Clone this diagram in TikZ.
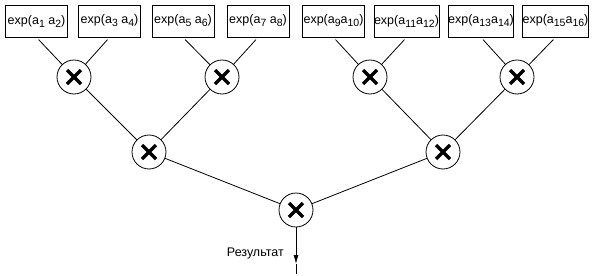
\documentclass[tikz,border=0pt]{standalone}
\usepackage{fontspec}
\setmainfont{Liberation Sans}
\usetikzlibrary{arrows.meta,calc}
\newcommand{\lo}[1]{\raisebox{-3pt}{\fontsize{10.5}{11}\selectfont #1}}

\begin{document}
\begin{tikzpicture}[
    x=1pt, y=-1pt,
    term/.style={rectangle, draw, line width=0.8pt, minimum width=62pt, minimum height=32pt, inner sep=0pt, font=\fontsize{12.5}{14}\selectfont},
    mult/.style={circle, draw, line width=0.8pt, minimum size=34pt, inner sep=0pt,
        path picture={
            \draw[line width=3.4pt] ($(path picture bounding box.center)+(-7,-7)$) -- ($(path picture bounding box.center)+(7,7)$);
            \draw[line width=3.4pt] ($(path picture bounding box.center)+(-7,7)$) -- ($(path picture bounding box.center)+(7,-7)$);
        }},
    wire/.style={line width=0.8pt},
]
    \useasboundingbox (0,0) rectangle (598,276);

    % Terms
    \node[term] (e1) at (36.5,21) {exp(a\lo{1} a\lo{2})};
    \node[term] (e2) at (109.5,21) {exp(a\lo{3} a\lo{4})};
    \node[term] (e3) at (183,21) {exp(a\lo{5} a\lo{6})};
    \node[term] (e4) at (258,21) {exp(a\lo{7} a\lo{8})};
    \node[term] (e5) at (333.5,21) {exp(a\lo{9}a\lo{10})};
    \node[term] (e6) at (406.5,21) {exp(a\lo{11}a\lo{12})};
    \node[term] (e7) at (481,21) {exp(a\lo{13}a\lo{14})};
    \node[term] (e8) at (555.5,21) {exp(a\lo{15}a\lo{16})};

    % Products
    \node[mult] (m1) at (74,77) {};
    \node[mult] (m2) at (222,77) {};
    \node[mult] (m3) at (370,77) {};
    \node[mult] (m4) at (517,77) {};
    \node[mult] (m12) at (149,152) {};
    \node[mult] (m34) at (443,152) {};
    \node[mult] (mall) at (296,210) {};

    \draw[wire, shorten <=3pt] (e1.south) -- (m1);
    \draw[wire, shorten <=3pt] (e2.south) -- (m1);
    \draw[wire, shorten <=3pt] (e3.south) -- (m2);
    \draw[wire, shorten <=3pt] (e4.south) -- (m2);
    \draw[wire, shorten <=3pt] (e5.south) -- (m3);
    \draw[wire, shorten <=3pt] (e6.south) -- (m3);
    \draw[wire, shorten <=3pt] (e7.south) -- (m4);
    \draw[wire, shorten <=3pt] (e8.south) -- (m4);
    \draw[wire] (m1) -- (m12);
    \draw[wire] (m2) -- (m12);
    \draw[wire] (m3) -- (m34);
    \draw[wire] (m4) -- (m34);
    \draw[wire] (m12) -- (mall);
    \draw[wire] (m34) -- (mall);

    % Result
    \coordinate (tip) at (296,264);
    \coordinate (out) at (296,274);
    \draw[wire, -{Latex[length=9pt, width=5pt]}] (mall) -- (tip);
    \draw[wire] (tip) -- (out);
    \node[anchor=east, inner sep=0pt, font=\fontsize{12.5}{14}\selectfont] (res) at (284,253) {Результат};
\end{tikzpicture}
\end{document}
